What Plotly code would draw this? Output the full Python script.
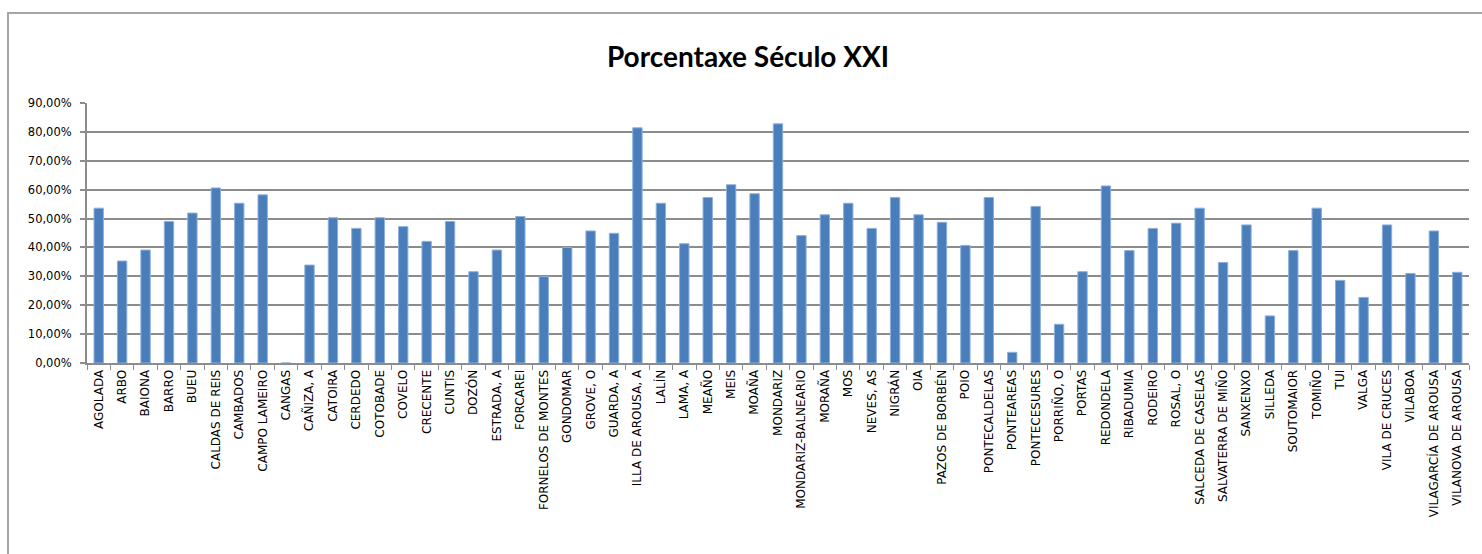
import plotly.graph_objects as go

categories = [
    "AGOLADA", "ARBO", "BAIONA", "BARRO", "BUEU", "CALDAS DE REIS", "CAMBADOS",
    "CAMPO LAMEIRO", "CANGAS", "CAÑIZA, A", "CATOIRA", "CERDEDO", "COTOBADE",
    "COVELO", "CRECENTE", "CUNTIS", "DOZÓN", "ESTRADA, A", "FORCAREI",
    "FORNELOS DE MONTES", "GONDOMAR", "GROVE, O", "GUARDA, A", "ILLA DE AROUSA, A",
    "LALÍN", "LAMA, A", "MEAÑO", "MEIS", "MOAÑA", "MONDARIZ", "MONDARIZ-BALNEARIO",
    "MORAÑA", "MOS", "NEVES, AS", "NIGRÁN", "OIA", "PAZOS DE BORBÉN", "POIO",
    "PONTECALDELAS", "PONTEAREAS", "PONTECESURES", "PORRIÑO, O", "PORTAS",
    "REDONDELA", "RIBADUMIA", "RODEIRO", "ROSAL, O", "SALCEDA DE CASELAS",
    "SALVATERRA DE MIÑO", "SANXENXO", "SILLEDA", "SOUTOMAIOR", "TOMIÑO", "TUI",
    "VALGA", "VILA DE CRUCES", "VILABOA", "VILAGARCÍA DE AROUSA", "VILANOVA DE AROUSA",
]

porcentaxe = [
    53.6, 35.3, 39.1, 49.0, 51.9, 60.6, 55.3,
    58.2, 0.0, 33.9, 50.3, 46.6, 50.3,
    47.2, 42.1, 49.0, 31.6, 39.1, 50.7,
    29.9, 40.0, 45.7, 44.9, 81.4,
    55.3, 41.3, 57.3, 61.7, 58.6, 82.8, 44.1,
    51.3, 55.3, 46.6, 57.3, 51.3, 48.7, 40.7,
    57.3, 3.7, 54.2, 13.4, 31.6,
    61.3, 38.9, 46.6, 48.4, 53.6,
    34.8, 47.8, 16.3, 38.9, 53.6, 28.6,
    22.7, 47.8, 31.0, 45.7, 31.4,
]

title_text = "Porcentaxe Século XXI"
y_ticks = [0, 10, 20, 30, 40, 50, 60, 70, 80, 90]
y_tick_labels = ["0,00%", "10,00%", "20,00%", "30,00%", "40,00%", "50,00%",
                 "60,00%", "70,00%", "80,00%", "90,00%"]

W, H = 1482, 554
L, R, T, B = 87, 13, 103, 191
pw, ph = W - L - R, H - T - B

fig = go.Figure(
    go.Bar(
        x=categories,
        y=porcentaxe,
        marker=dict(color="#4A7EBB", line=dict(color="#8CB0DC", width=1)),
    )
)

def px_x(p):
    return (p - L) / pw

def px_y(p):
    return (H - B - p) / ph

# chart-area border (Excel style)
fig.add_shape(
    type="rect", xref="paper", yref="paper",
    x0=px_x(8), x1=px_x(1495), y0=px_y(570), y1=px_y(13),
    line=dict(color="#A6A6A6", width=2), fillcolor="rgba(0,0,0,0)", layer="below",
)

fig.update_layout(
    width=W, height=H,
    margin=dict(l=L, r=R, t=T, b=B, autoexpand=False),
    paper_bgcolor="white", plot_bgcolor="white",
    bargap=0.6,
    showlegend=False,
    title=dict(
        text=title_text, x=748 / W, xanchor="center", y=1 - 57 / H, yanchor="middle",
        xref="container", yref="container",
        font=dict(family="Lato", size=28, color="#000000", weight="bold"),
    ),
    font=dict(family="DejaVu Sans", color="#000000"),
)

fig.update_xaxes(
    type="category",
    tickangle=-90,
    tickfont=dict(family="DejaVu Sans", size=12, color="#000000"),
    showline=True, linecolor="#8C8C8C", linewidth=2,
    ticks="outside", tickson="boundaries", ticklen=5, tickcolor="#8C8C8C", tickwidth=1,
    showgrid=False,
)

fig.update_yaxes(
    range=[0, 90],
    tickvals=y_ticks,
    ticktext=y_tick_labels,
    tickfont=dict(family="DejaVu Sans", size=11.5, color="#000000"),
    ticklabelstandoff=6,
    showline=True, linecolor="#8C8C8C", linewidth=2,
    ticks="outside", ticklen=5, tickcolor="#8C8C8C", tickwidth=2,
    showgrid=True, gridcolor="#8C8C8C", gridwidth=1.5,
    zeroline=False,
)

fig.write_html(
    "out.html",
    config={"displayModeBar": False},
    post_script="document.body.style.margin='0';",
)
